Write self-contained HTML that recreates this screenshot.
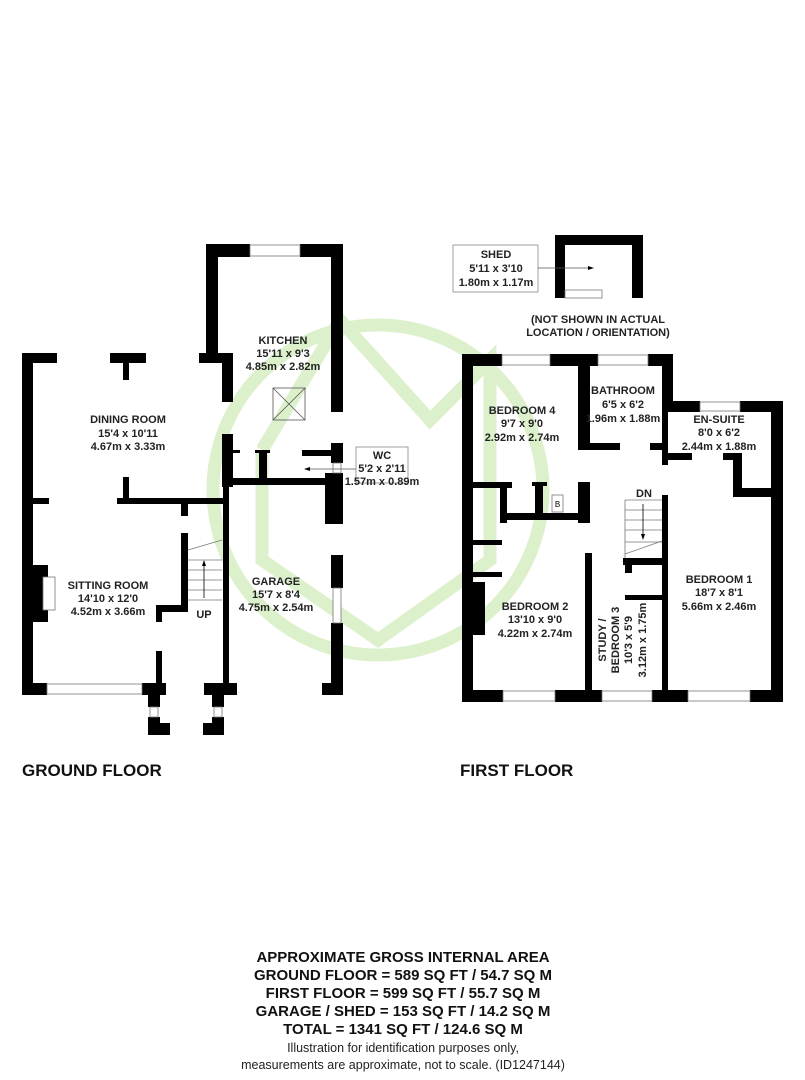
<!DOCTYPE html>
<html><head><meta charset="utf-8"><style>
html,body{margin:0;padding:0;background:#fff;}
svg{display:block;font-family:"Liberation Sans",Arial,sans-serif;}
.t{font-weight:bold;font-size:11px;text-anchor:middle;fill:#222;}
.w{fill:#000;}
.win{fill:#fff;stroke:#777;stroke-width:0.8;}
</style></head><body>
<svg width="805" height="1080" viewBox="0 0 805 1080" xmlns="http://www.w3.org/2000/svg">
<rect width="805" height="1080" fill="#fff"/>
<!-- watermark -->
<g fill="none" stroke="#dcf1cb" stroke-width="13">
<circle cx="378" cy="490" r="165"/>
<polyline points="262,450 340,320 430,420 490,360 490,560 378,640 262,560 262,450"/>
</g>
<!-- GROUND FLOOR -->
<g class="w">
<rect x="22" y="353" width="11" height="342"/>
<rect x="22" y="353" width="35" height="10"/>
<rect x="110" y="353" width="36" height="10"/>
<rect x="123" y="363" width="6" height="17"/>
<rect x="199" y="353" width="34" height="10"/>
<rect x="222" y="353" width="11" height="49"/>
<rect x="206" y="244" width="12" height="119"/>
<rect x="206" y="244" width="44" height="13"/>
<rect x="300" y="244" width="43" height="13"/>
<rect x="331" y="244" width="12" height="168"/>
<rect x="222" y="434" width="11" height="53"/>
<rect x="223" y="480" width="6" height="208"/>
<rect x="117" y="498" width="106" height="6"/>
<rect x="123" y="477" width="6" height="21"/>
<rect x="181" y="504" width="7" height="12"/>
<rect x="33" y="498" width="16" height="6"/>
<rect x="228" y="478" width="105" height="7"/>
<rect x="259" y="450" width="8" height="28"/>
<rect x="255" y="450" width="15" height="3"/>
<rect x="233" y="450" width="7" height="3"/>
<rect x="302" y="450" width="31" height="6"/>
<rect x="331" y="443" width="12" height="20"/>
<rect x="325" y="473" width="18" height="51"/>
<rect x="331" y="555" width="12" height="33"/>
<rect x="331" y="623" width="12" height="62"/>
<rect x="322" y="683" width="21" height="12"/>
<rect x="181" y="533" width="7" height="77"/>
<rect x="156" y="605" width="32" height="7"/>
<rect x="156" y="612" width="6" height="10"/>
<rect x="156" y="651" width="6" height="34"/>
<rect x="22" y="683" width="25" height="12"/>
<rect x="142" y="683" width="24" height="12"/>
<rect x="148" y="695" width="12" height="12"/>
<rect x="148" y="717" width="12" height="18"/>
<rect x="148" y="723" width="22" height="12"/>
<rect x="204" y="683" width="33" height="12"/>
<rect x="212" y="695" width="12" height="12"/>
<rect x="212" y="717" width="12" height="18"/>
<rect x="203" y="723" width="21" height="12"/>
<rect x="22" y="565" width="26" height="57"/>
</g>
<rect class="win" x="250" y="245" width="50" height="11"/>
<rect class="win" x="47" y="684" width="95" height="10"/>
<rect class="win" x="150" y="707" width="8" height="10"/>
<rect class="win" x="214" y="707" width="8" height="10"/>
<rect class="win" x="333" y="463" width="8" height="10"/>
<rect class="win" x="333" y="588" width="8" height="35"/>
<rect class="win" x="43" y="577" width="12" height="33"/>
<!-- skylight -->
<g stroke="#555" stroke-width="0.8" fill="none">
<rect x="273" y="388" width="32" height="32"/>
<line x1="273" y1="388" x2="305" y2="420"/><line x1="305" y1="388" x2="273" y2="420"/>
</g>
<!-- stairs ground -->
<g stroke="#777" stroke-width="0.8">
<line x1="188" y1="550" x2="222" y2="540"/>
<line x1="188" y1="560" x2="222" y2="560"/>
<line x1="188" y1="570" x2="222" y2="570"/>
<line x1="188" y1="580" x2="222" y2="580"/>
<line x1="188" y1="590" x2="222" y2="590"/>
<line x1="188" y1="600" x2="222" y2="600"/>
<line x1="204" y1="598" x2="204" y2="563" stroke="#000"/>
</g>
<polygon points="204,560 202,566 206,566" fill="#000"/>
<!-- WC label -->
<rect x="356" y="447" width="52" height="36" fill="#fff" stroke="#888" stroke-width="0.8"/>
<line x1="305" y1="469" x2="356" y2="469" stroke="#555" stroke-width="0.8"/>
<polygon points="304,469 310,467 310,471" fill="#000"/>
<text class="t" x="382" y="459">WC</text>
<text class="t" x="382" y="472">5'2 x 2'11</text>
<text class="t" x="382" y="485">1.57m x 0.89m</text>
<text class="t" x="283" y="344">KITCHEN</text>
<text class="t" x="283" y="357">15'11 x 9'3</text>
<text class="t" x="283" y="370">4.85m x 2.82m</text>
<text class="t" x="128" y="423">DINING ROOM</text>
<text class="t" x="128" y="437">15'4 x 10'11</text>
<text class="t" x="128" y="450">4.67m x 3.33m</text>
<text class="t" x="108" y="589">SITTING ROOM</text>
<text class="t" x="108" y="602">14'10 x 12'0</text>
<text class="t" x="108" y="615">4.52m x 3.66m</text>
<text class="t" x="204" y="618">UP</text>
<text class="t" x="276" y="585">GARAGE</text>
<text class="t" x="276" y="598">15'7 x 8'4</text>
<text class="t" x="276" y="611">4.75m x 2.54m</text>
<text x="22" y="776" style="font-weight:bold;font-size:17px;fill:#111">GROUND FLOOR</text>
<text x="460" y="776" style="font-weight:bold;font-size:17px;fill:#111">FIRST FLOOR</text>
<!-- SHED -->
<g class="w">
<rect x="555" y="235" width="88" height="10"/>
<rect x="555" y="235" width="10" height="63"/>
<rect x="632" y="235" width="11" height="63"/>
</g>
<rect class="win" x="565" y="290" width="37" height="8"/>
<rect x="453" y="245" width="85" height="47" fill="#fff" stroke="#888" stroke-width="0.8"/>
<line x1="538" y1="268" x2="588" y2="268" stroke="#555" stroke-width="0.8"/>
<polygon points="594,268 588,266 588,270" fill="#000"/>
<text class="t" x="496" y="258">SHED</text>
<text class="t" x="496" y="272">5'11 x 3'10</text>
<text class="t" x="496" y="286">1.80m x 1.17m</text>
<text class="t" x="598" y="323">(NOT SHOWN IN ACTUAL</text>
<text class="t" x="598" y="336">LOCATION / ORIENTATION)</text>
<!-- FIRST FLOOR -->
<g class="w">
<rect x="462" y="354" width="11" height="348"/>
<rect x="462" y="354" width="40" height="12"/>
<rect x="550" y="354" width="48" height="12"/>
<rect x="648" y="354" width="25" height="12"/>
<rect x="662" y="354" width="11" height="58"/>
<rect x="662" y="401" width="38" height="11"/>
<rect x="740" y="401" width="43" height="11"/>
<rect x="771" y="401" width="12" height="301"/>
<rect x="578" y="366" width="12" height="84"/>
<rect x="583" y="443" width="37" height="7"/>
<rect x="650" y="443" width="12" height="7"/>
<rect x="662" y="412" width="6" height="53"/>
<rect x="668" y="453" width="24" height="7"/>
<rect x="723" y="453" width="17" height="7"/>
<rect x="733" y="453" width="9" height="44"/>
<rect x="733" y="488" width="38" height="9"/>
<rect x="473" y="482" width="39" height="6"/>
<rect x="500" y="482" width="7" height="41"/>
<rect x="500" y="513" width="90" height="7"/>
<rect x="535" y="482" width="8" height="35"/>
<rect x="532" y="482" width="15" height="4"/>
<rect x="578" y="482" width="12" height="41"/>
<rect x="473" y="540" width="29" height="5"/>
<rect x="473" y="572" width="29" height="5"/>
<rect x="473" y="582" width="12" height="53"/>
<rect x="585" y="553" width="7" height="139"/>
<rect x="662" y="495" width="6" height="197"/>
<rect x="623" y="558" width="39" height="7"/>
<rect x="625" y="565" width="7" height="8"/>
<rect x="625" y="595" width="37" height="5"/>
<rect x="462" y="690" width="41" height="12"/>
<rect x="555" y="690" width="47" height="12"/>
<rect x="652" y="690" width="36" height="12"/>
<rect x="750" y="690" width="33" height="12"/>
</g>
<rect class="win" x="502" y="355" width="48" height="10"/>
<rect class="win" x="598" y="355" width="50" height="10"/>
<rect class="win" x="700" y="402" width="40" height="9"/>
<rect class="win" x="503" y="691" width="52" height="10"/>
<rect class="win" x="602" y="691" width="50" height="10"/>
<rect class="win" x="688" y="691" width="62" height="10"/>
<rect x="552" y="495" width="11" height="17" fill="#fff" stroke="#777" stroke-width="0.8"/>
<text x="557.5" y="507" style="font-size:8px;text-anchor:middle">B</text>
<!-- stairs first -->
<g stroke="#777" stroke-width="0.8">
<line x1="625" y1="500" x2="625" y2="558"/>
<line x1="625" y1="500" x2="662" y2="500"/>
<line x1="625" y1="510" x2="662" y2="510"/>
<line x1="625" y1="520" x2="662" y2="520"/>
<line x1="625" y1="530" x2="662" y2="530"/>
<line x1="625" y1="542" x2="662" y2="542"/>
<line x1="625" y1="554" x2="662" y2="541"/>
<line x1="643" y1="504" x2="643" y2="536" stroke="#000"/>
</g>
<polygon points="643,540 641,534 645,534" fill="#000"/>
<text class="t" x="644" y="497">DN</text>
<text class="t" x="522" y="414">BEDROOM 4</text>
<text class="t" x="522" y="427">9'7 x 9'0</text>
<text class="t" x="522" y="441">2.92m x 2.74m</text>
<text class="t" x="623" y="394">BATHROOM</text>
<text class="t" x="623" y="408">6'5 x 6'2</text>
<text class="t" x="623" y="422">1.96m x 1.88m</text>
<text class="t" x="719" y="423">EN-SUITE</text>
<text class="t" x="719" y="436">8'0 x 6'2</text>
<text class="t" x="719" y="450">2.44m x 1.88m</text>
<text class="t" x="719" y="583">BEDROOM 1</text>
<text class="t" x="719" y="596">18'7 x 8'1</text>
<text class="t" x="719" y="610">5.66m x 2.46m</text>
<text class="t" x="535" y="610">BEDROOM 2</text>
<text class="t" x="535" y="623">13'10 x 9'0</text>
<text class="t" x="535" y="637">4.22m x 2.74m</text>
<g transform="translate(622,640) rotate(-90)">
<text class="t" x="0" y="-16">STUDY /</text>
<text class="t" x="0" y="-3">BEDROOM 3</text>
<text class="t" x="0" y="10">10'3 x 5'9</text>
<text class="t" x="0" y="24">3.12m x 1.75m</text>
</g>
<!-- footer -->
<g style="font-weight:bold;font-size:15px;text-anchor:middle;fill:#111">
<text x="403" y="962">APPROXIMATE GROSS INTERNAL AREA</text>
<text x="403" y="980">GROUND FLOOR = 589 SQ FT / 54.7 SQ M</text>
<text x="403" y="998">FIRST FLOOR = 599 SQ FT / 55.7 SQ M</text>
<text x="403" y="1016">GARAGE / SHED = 153 SQ FT / 14.2 SQ M</text>
<text x="403" y="1034">TOTAL = 1341 SQ FT / 124.6 SQ M</text>
</g>
<g style="font-size:12.5px;text-anchor:middle;fill:#222">
<text x="403" y="1052">Illustration for identification purposes only,</text>
<text x="403" y="1069">measurements are approximate, not to scale. (ID1247144)</text>
</g>
</svg>
</body></html>
